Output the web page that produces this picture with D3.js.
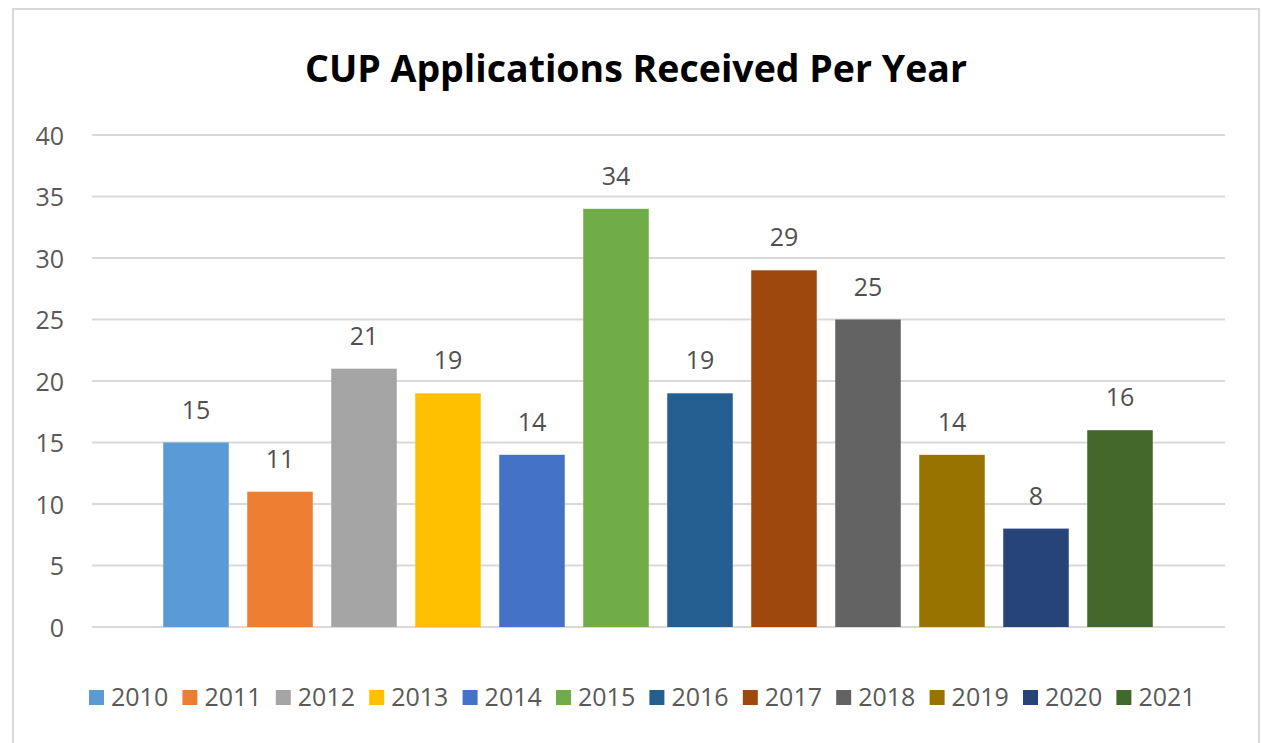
<!DOCTYPE html>
<html>
<head>
<meta charset="utf-8">
<script src="https://cdn.jsdelivr.net/npm/d3@7/dist/d3.min.js"></script>
<style>
  html, body { margin: 0; padding: 0; background: #fff; }
  svg { display: block; }
</style>
</head>
<body>
<svg id="chart" width="1262" height="743"></svg>
<script>
const title = "CUP Applications Received Per Year";
const years = ["2010","2011","2012","2013","2014","2015","2016","2017","2018","2019","2020","2021"];
const values = [15, 11, 21, 19, 14, 34, 19, 29, 25, 14, 8, 16];
const colors = ["#5b9bd5","#ed7d31","#a5a5a5","#ffc000","#4472c4","#70ad47","#255e91","#9e480e","#636363","#997300","#264478","#43682b"];
const yTicks = [0, 5, 10, 15, 20, 25, 30, 35, 40];

const svg = d3.select("#chart");
const font = "'Open Sans', 'Noto Sans', sans-serif";
const textColor = "#595959";

// outer border
svg.append("rect")
  .attr("x", 13).attr("y", 9)
  .attr("width", 1246).attr("height", 745)
  .attr("fill", "#fff")
  .attr("stroke", "#d9d9d9").attr("stroke-width", 2);

// title
svg.append("text")
  .attr("x", 636).attr("y", 82)
  .attr("text-anchor", "middle")
  .attr("font-family", font)
  .attr("font-weight", "bold")
  .attr("font-size", 38)
  .attr("fill", "#000")
  .attr("textLength", 662).attr("lengthAdjust", "spacingAndGlyphs")
  .text(title);

// scales
const y = d3.scaleLinear().domain([0, 40]).range([627, 135]);
const gridX0 = 92, gridX1 = 1225;
const x = d3.scaleBand().domain(years).range([154, 1162]).paddingInner(0.22).paddingOuter(0.11);

// gridlines
svg.append("g").selectAll("line")
  .data(yTicks).join("line")
  .attr("x1", gridX0).attr("x2", gridX1)
  .attr("y1", d => y(d)).attr("y2", d => y(d))
  .attr("stroke", "#d9d9d9").attr("stroke-width", 2);

// y axis labels
const yAxis = d3.axisLeft(y).tickValues(yTicks).tickSize(0).tickPadding(0);
const ga = svg.append("g").attr("transform", "translate(64,0)").call(yAxis);
ga.select(".domain").remove();
ga.selectAll("text")
  .attr("font-family", font).attr("font-size", 25)
  .attr("fill", textColor)
  .attr("dy", "0.36em");

// bars
const data = years.map((yr, i) => ({ year: yr, value: values[i], color: colors[i] }));
svg.append("g").selectAll("rect")
  .data(data).join("rect")
  .attr("x", d => x(d.year))
  .attr("y", d => y(d.value))
  .attr("width", x.bandwidth())
  .attr("height", d => y(0) - y(d.value))
  .attr("fill", d => d.color);

// data labels
svg.append("g").selectAll("text")
  .data(data).join("text")
  .attr("x", d => x(d.year) + x.bandwidth() / 2)
  .attr("y", d => y(d.value) - 24)
  .attr("text-anchor", "middle")
  .attr("font-family", font).attr("font-size", 25)
  .attr("fill", "#505050")
  .text(d => d.value);

// legend
const lx = d3.scaleBand().domain(years).range([89, 89 + 12 * 93.4]);
const leg = svg.append("g").selectAll("g")
  .data(data).join("g")
  .attr("transform", d => `translate(${lx(d.year)},690)`);
leg.append("rect")
  .attr("width", 15).attr("height", 15)
  .attr("fill", d => d.color);
leg.append("text")
  .attr("x", 22).attr("y", 16)
  .attr("font-family", font).attr("font-size", 25)
  .attr("fill", textColor)
  .text(d => d.year);
</script>
</body>
</html>
